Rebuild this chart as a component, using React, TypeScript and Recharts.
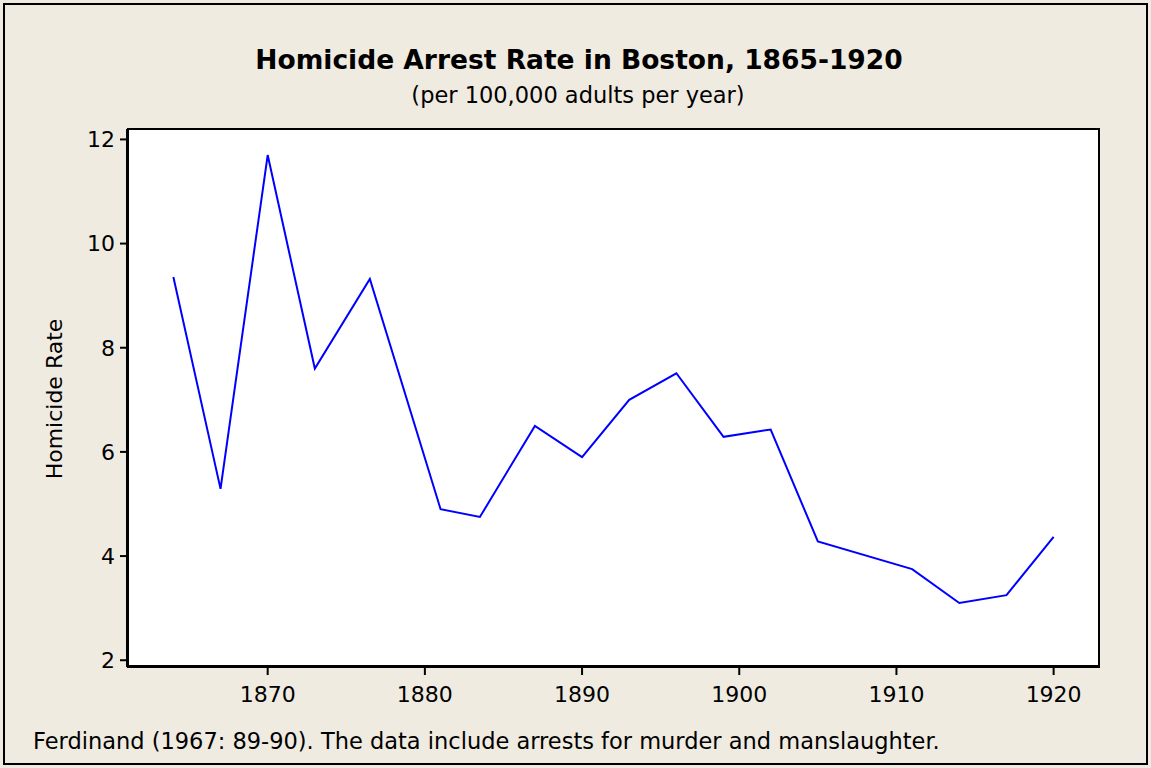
import { LineChart, Line, XAxis, YAxis } from "recharts"

const years = [1864, 1867, 1870, 1873, 1876.5, 1881, 1883.5, 1887, 1890, 1893, 1896, 1899, 1902, 1905, 1911, 1914, 1917, 1920]
const rates = [9.36, 5.29, 11.7, 7.6, 9.32, 4.9, 4.75, 6.5, 5.9, 7.0, 7.51, 6.29, 6.43, 4.28, 3.75, 3.1, 3.25, 4.37]
const xTicks = [1870, 1880, 1890, 1900, 1910, 1920]
const yTicks = [2, 4, 6, 8, 10, 12]

const data = years.map((year, i) => ({ year, rate: rates[i] }))

const W = 1151
const H = 768
const FONT = "'DejaVu Sans', Verdana, sans-serif"
const BG = "#EFEBE1"

export default function App() {
  return (
    <div style={{ position: "absolute", left: 0, top: 0, width: W, height: H, background: BG, fontFamily: FONT }}>
      {/* outer frame */}
      <div style={{ position: "absolute", left: 3, top: 3, width: W - 10, height: H - 10, border: "2px solid #000" }} />
      {/* plot area background + border */}
      <div
        style={{
          position: "absolute",
          left: 127,
          top: 128,
          width: 973,
          height: 539,
          background: "#fff",
          border: "2px solid #000",
          boxSizing: "border-box",
        }}
      />
      <div style={{ position: "absolute", left: 0, top: 0 }}>
        <LineChart width={W} height={H} data={data} margin={{ top: 129, right: 51, bottom: 41, left: 0 }}>
          <XAxis
            dataKey="year"
            type="number"
            domain={[1861.05, 1922.95]}
            ticks={xTicks}
            allowDataOverflow
            height={60}
            tickSize={8}
            tickMargin={11}
            stroke="#000"
            strokeWidth={2}
            tick={{ fill: "#000", fontSize: 22, fontFamily: FONT }}
          />
          <YAxis
            type="number"
            domain={[1.87, 12.2]}
            ticks={yTicks}
            allowDataOverflow
            width={127}
            tickSize={7}
            tickMargin={5}
            stroke="#000"
            strokeWidth={2}
            tick={{ fill: "#000", fontSize: 22, fontFamily: FONT }}
          />
          <Line
            dataKey="rate"
            type="linear"
            stroke="#0000FF"
            strokeWidth={2}
            dot={false}
            isAnimationActive={false}
          />
        </LineChart>
      </div>
      <svg width={W} height={H} style={{ position: "absolute", left: 0, top: 0, pointerEvents: "none" }}>
        <text x={579} y={69} textAnchor="middle" fontSize={26.5} fontWeight="bold" fontFamily={FONT} fill="#000">
          Homicide Arrest Rate in Boston, 1865-1920
        </text>
        <text x={578} y={103} textAnchor="middle" fontSize={22.5} fontFamily={FONT} fill="#000">
          (per 100,000 adults per year)
        </text>
        <text
          x={62}
          y={399}
          textAnchor="middle"
          fontSize={22}
          fontFamily={FONT}
          fill="#000"
          transform="rotate(-90 62 399)"
        >
          Homicide Rate
        </text>
        <text x={33} y={749} fontSize={22.5} fontFamily={FONT} fill="#000">
          Ferdinand (1967: 89-90). The data include arrests for murder and manslaughter.
        </text>
      </svg>
    </div>
  )
}
